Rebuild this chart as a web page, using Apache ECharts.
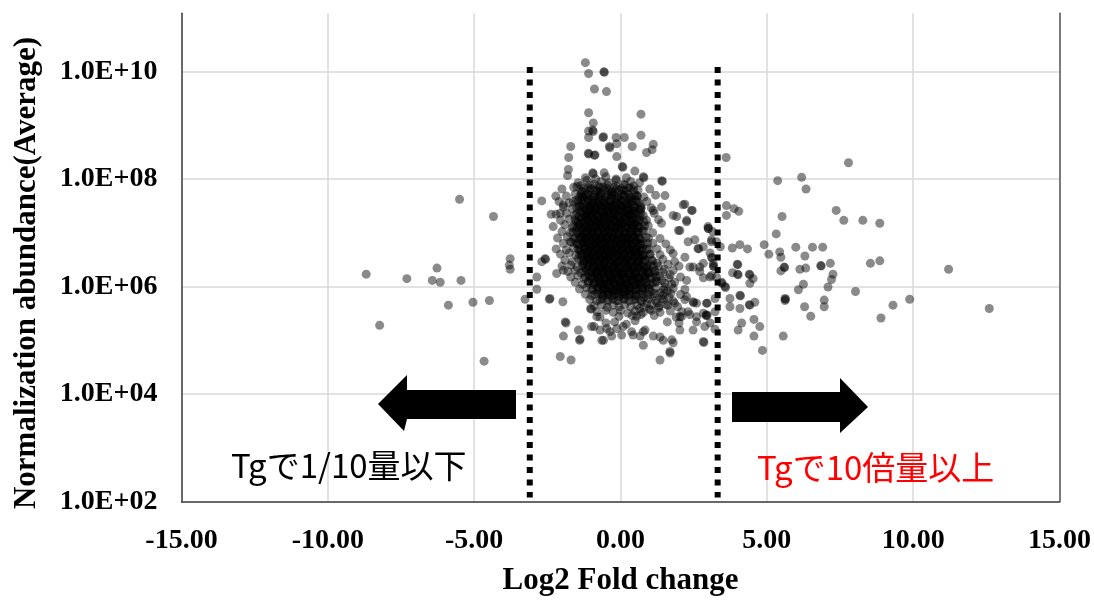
<!DOCTYPE html>
<html>
<head>
<meta charset="utf-8">
<script src="https://cdn.jsdelivr.net/npm/echarts@6.0.0/dist/echarts.min.js"></script>
<style>
  html, body { margin: 0; padding: 0; background: #fff; }
  #main { width: 1094px; height: 603px; }
</style>
</head>
<body>
<div id="main"></div>
<script>
// 軸の設定
const xMin = -15
const xMax = 15
const xStep = 5
const yMin = 1e2
const yMax = 1.2e11
const yTickLabels = ['1.0E+02', '1.0E+04', '1.0E+06', '1.0E+08', '1.0E+10']
// 1/10 と 10倍 の境界 (Log2)
const cutoffs = [-3.1, 3.32]

// [Log2 Fold change, Normalization abundance]
const tailPoints = [
  [-1.20, 1.45e10], [-1.09, 9.1e9], [-0.57, 9.8e9], [-0.55, 9.6e9], [-0.89, 4.7e9], [-0.48, 4.2e9],
  [-1.09, 1.7e9], [0.70, 1.6e9], [-0.93, 1.1e9], [-1.09, 7.8e8], [-0.95, 8.1e8], [-0.93, 7.6e8],
  [-1.09, 5.9e8], [-0.60, 5.9e8], [-0.58, 6.1e8], [-0.15, 5.9e8], [0.13, 5.9e8], [0.70, 6.5e8],
  [0.40, 4.0e8], [1.12, 4.4e8], [1.08, 3.5e8], [0.89, 3.1e8], [-0.38, 4.0e8], [-0.36, 3.8e8],
  [-0.13, 4.5e8], [-1.70, 4.0e8], [-1.77, 2.5e8], [-1.10, 3.0e8], [-1.08, 2.9e8], [-0.89, 2.75e8],
  [-0.87, 2.8e8], [-0.13, 2.6e8], [-1.78, 1.5e8], [-1.81, 1.15e8], [-0.95, 1.3e8], [-0.93, 1.25e8],
  [0.06, 1.7e8], [0.08, 1.65e8], [-0.56, 1.3e8], [0.49, 1.4e8], [0.78, 1.1e8], [0.80, 1.05e8],
  [1.41, 9.3e7], [1.43, 9.0e7]
]

const corePoints = [
  [-1.45, 8.5e7], [-1.15, 9.5e7], [-0.9, 8e7], [-0.65, 9e7], [-0.4, 8.5e7], [-0.15, 9.5e7], [0.1, 8e7], [0.35, 9e7], [0.65, 8.5e7],
  [-2.0, 6.5e7], [-1.6, 7e7], [-1.35, 6e7], [-1.1, 6.8e7], [-0.85, 6.2e7], [-0.6, 7e7], [-0.4, 6e7], [-0.15, 6.6e7], [0.1, 6.1e7], [0.35, 6.8e7], [0.6, 6.2e7], [1.0, 6.5e7], [-0.72, 5.7e7], [-0.28, 5.6e7],
  [-1.85, 4.8e7], [-1.55, 5.2e7], [-1.3, 4.6e7], [-1.08, 5e7], [-0.9, 4.5e7], [-0.68, 4.9e7], [-0.5, 4.4e7], [-0.3, 5.1e7], [-0.1, 4.6e7], [0.12, 5e7], [0.33, 4.5e7], [0.55, 4.9e7], [0.8, 4.6e7], [1.2, 5e7],
  [-2.1, 3.8e7], [-1.75, 3.6e7], [-1.5, 4e7], [-1.28, 3.5e7], [-1.1, 3.9e7], [-0.92, 3.6e7], [-0.75, 4e7], [-0.56, 3.5e7], [-0.38, 3.8e7], [-0.2, 3.6e7], [0.0, 4e7], [0.2, 3.5e7], [0.4, 3.9e7], [0.62, 3.6e7], [0.9, 3.8e7],
  [-1.95, 3e7], [-1.65, 2.8e7], [-1.42, 3.1e7], [-1.2, 2.7e7], [-1.02, 3e7], [-0.84, 2.8e7], [-0.66, 3.1e7], [-0.48, 2.7e7], [-0.3, 3e7], [-0.12, 2.8e7], [0.06, 3.1e7], [0.25, 2.7e7], [0.45, 3e7], [0.7, 2.8e7], [1.05, 2.9e7],
  [-2.2, 2.2e7], [-1.85, 2.3e7], [-1.58, 2.1e7], [-1.35, 2.4e7], [-1.15, 2.2e7], [-0.97, 2.3e7], [-0.79, 2.1e7], [-0.6, 2.4e7], [-0.42, 2.2e7], [-0.24, 2.3e7], [-0.06, 2.1e7], [0.13, 2.4e7], [0.32, 2.2e7], [0.52, 2.3e7], [0.78, 2.1e7], [1.15, 2.3e7],
  [-2.05, 1.7e7], [-1.75, 1.8e7], [-1.5, 1.6e7], [-1.3, 1.9e7], [-1.12, 1.7e7], [-0.93, 1.8e7], [-0.75, 1.6e7], [-0.57, 1.9e7], [-0.38, 1.7e7], [-0.2, 1.8e7], [-0.02, 1.6e7], [0.17, 1.9e7], [0.36, 1.7e7], [0.56, 1.8e7], [0.8, 1.6e7], [1.3, 1.75e7],
  [-2.3, 1.3e7], [-1.9, 1.4e7], [-1.65, 1.25e7], [-1.42, 1.45e7], [-1.22, 1.3e7], [-1.04, 1.4e7], [-0.86, 1.25e7], [-0.68, 1.45e7], [-0.5, 1.3e7], [-0.32, 1.4e7], [-0.14, 1.25e7], [0.05, 1.45e7], [0.24, 1.3e7], [0.44, 1.4e7], [0.66, 1.25e7], [0.95, 1.35e7],
  [-2.0, 1.05e7], [-1.72, 1e7], [-1.5, 1.1e7], [-1.3, 9.5e6], [-1.12, 1.05e7], [-0.94, 1e7], [-0.76, 1.1e7], [-0.58, 9.5e6], [-0.4, 1.05e7], [-0.22, 1e7], [-0.04, 1.1e7], [0.15, 9.5e6], [0.34, 1.05e7], [0.54, 1e7], [0.76, 1.1e7], [1.1, 1e7],
  [-2.15, 8e6], [-1.82, 8.4e6], [-1.58, 7.6e6], [-1.38, 8.2e6], [-1.19, 7.7e6], [-1.01, 8.3e6], [-0.83, 7.6e6], [-0.65, 8.2e6], [-0.47, 7.7e6], [-0.29, 8.3e6], [-0.11, 7.6e6], [0.08, 8.2e6], [0.27, 7.7e6], [0.47, 8.3e6], [0.68, 7.6e6], [0.95, 8e6], [1.35, 7.8e6],
  [-1.95, 6.3e6], [-1.68, 6.6e6], [-1.46, 6e6], [-1.26, 6.5e6], [-1.08, 6.1e6], [-0.9, 6.6e6], [-0.72, 6e6], [-0.54, 6.5e6], [-0.36, 6.1e6], [-0.18, 6.6e6], [0.0, 6e6], [0.19, 6.5e6], [0.38, 6.1e6], [0.58, 6.6e6], [0.8, 6e6], [1.1, 6.4e6], [1.55, 6.2e6],
  [-2.2, 5e6], [-1.85, 4.8e6], [-1.6, 5.2e6], [-1.4, 4.7e6], [-1.21, 5.1e6], [-1.03, 4.8e6], [-0.85, 5.3e6], [-0.67, 4.7e6], [-0.49, 5.1e6], [-0.31, 4.8e6], [-0.13, 5.3e6], [0.06, 4.7e6], [0.25, 5.1e6], [0.45, 4.8e6], [0.66, 5.2e6], [0.9, 4.9e6], [1.25, 5e6], [1.7, 4.8e6],
  [-2.05, 4e6], [-1.75, 4.2e6], [-1.52, 3.8e6], [-1.32, 4.1e6], [-1.14, 3.7e6], [-0.96, 4.2e6], [-0.78, 3.8e6], [-0.6, 4.1e6], [-0.42, 3.7e6], [-0.24, 4.2e6], [-0.06, 3.8e6], [0.13, 4.1e6], [0.32, 3.7e6], [0.52, 4.2e6], [0.74, 3.8e6], [1.0, 4e6], [1.35, 3.9e6], [1.8, 4.1e6],
  [-1.9, 3.1e6], [-1.65, 2.9e6], [-1.44, 3.3e6], [-1.25, 3e6], [-1.07, 3.2e6], [-0.89, 2.9e6], [-0.71, 3.3e6], [-0.53, 3e6], [-0.35, 3.2e6], [-0.17, 2.9e6], [0.01, 3.3e6], [0.2, 3e6], [0.4, 3.2e6], [0.6, 2.9e6], [0.82, 3.1e6], [1.1, 3e6], [1.45, 3.2e6], [1.85, 2.9e6],
  [-2.0, 2.4e6], [-1.7, 2.5e6], [-1.48, 2.3e6], [-1.28, 2.6e6], [-1.1, 2.4e6], [-0.92, 2.5e6], [-0.74, 2.3e6], [-0.56, 2.6e6], [-0.38, 2.4e6], [-0.2, 2.5e6], [-0.02, 2.3e6], [0.17, 2.6e6], [0.36, 2.4e6], [0.56, 2.5e6], [0.78, 2.3e6], [1.02, 2.5e6], [1.3, 2.4e6], [1.62, 2.6e6], [2.0, 2.4e6],
  [-1.8, 1.9e6], [-1.55, 2e6], [-1.35, 1.8e6], [-1.16, 2.05e6], [-0.98, 1.85e6], [-0.8, 2e6], [-0.62, 1.8e6], [-0.44, 2.05e6], [-0.26, 1.85e6], [-0.08, 2e6], [0.11, 1.8e6], [0.3, 2.05e6], [0.5, 1.85e6], [0.7, 2e6], [0.92, 1.8e6], [1.18, 1.95e6], [1.45, 1.85e6], [1.8, 2e6],
  [-1.7, 1.5e6], [-1.45, 1.6e6], [-1.25, 1.4e6], [-1.06, 1.55e6], [-0.88, 1.45e6], [-0.7, 1.6e6], [-0.52, 1.4e6], [-0.34, 1.55e6], [-0.16, 1.45e6], [0.03, 1.6e6], [0.22, 1.4e6], [0.42, 1.55e6], [0.62, 1.45e6], [0.84, 1.6e6], [1.08, 1.4e6], [1.35, 1.55e6], [1.65, 1.45e6], [2.05, 1.5e6],
  [-1.55, 1.2e6], [-1.3, 1.1e6], [-1.1, 1.25e6], [-0.92, 1.15e6], [-0.74, 1.2e6], [-0.56, 1.1e6], [-0.38, 1.25e6], [-0.2, 1.15e6], [-0.02, 1.2e6], [0.17, 1.1e6], [0.36, 1.25e6], [0.56, 1.15e6], [0.77, 1.2e6], [1.0, 1.1e6], [1.25, 1.25e6], [1.52, 1.15e6], [1.85, 1.2e6],
  [-1.4, 9e5], [-1.15, 9.5e5], [-0.95, 8.6e5], [-0.77, 9.8e5], [-0.59, 8.8e5], [-0.41, 9.4e5], [-0.23, 8.6e5], [-0.05, 9.6e5], [0.14, 8.8e5], [0.33, 9.4e5], [0.53, 8.6e5], [0.74, 9.6e5], [0.96, 8.8e5], [1.2, 9.4e5], [1.48, 8.7e5], [1.8, 9.2e5], [2.2, 8.8e5],
  [-1.2, 7.2e5], [-0.98, 6.8e5], [-0.78, 7.6e5], [-0.6, 7e5], [-0.42, 7.5e5], [-0.24, 6.9e5], [-0.06, 7.6e5], [0.13, 7e5], [0.32, 7.4e5], [0.52, 6.8e5], [0.73, 7.6e5], [0.95, 7e5], [1.18, 7.4e5], [1.44, 6.9e5], [1.72, 7.5e5], [2.05, 7.1e5],
  [-1.05, 5.7e5], [-0.82, 5.4e5], [-0.62, 5.9e5], [-0.44, 5.3e5], [-0.26, 5.8e5], [-0.08, 5.5e5], [0.11, 6e5], [0.3, 5.4e5], [0.5, 5.8e5], [0.72, 5.3e5], [0.95, 5.9e5], [1.2, 5.5e5], [1.48, 5.8e5], [1.8, 5.4e5], [2.2, 5.7e5],
  [-0.9, 4.4e5], [-0.65, 4.6e5], [-0.45, 4.1e5], [-0.25, 4.5e5], [-0.05, 4.2e5], [0.15, 4.6e5], [0.35, 4.2e5], [0.57, 4.5e5], [0.8, 4.1e5], [1.05, 4.6e5], [1.32, 4.3e5], [1.62, 4.5e5], [1.95, 4.2e5],
  [-0.8, 3.4e5], [-0.5, 3.6e5], [-0.25, 3.3e5], [0.0, 3.6e5], [0.25, 3.2e5], [0.5, 3.5e5], [0.78, 3.3e5], [1.05, 3.6e5], [1.35, 3.3e5], [1.7, 3.5e5], [2.1, 3.4e5],
  [-0.7, 2.7e5], [-0.05, 2.8e5], [0.55, 2.8e5], [1.15, 2.9e5], [1.9, 2.7e5]
]

// 中心部の重なり
const densePoints = [
  [-1.02, 3.3e7], [-0.76, 3.4e7], [-0.5, 3.2e7], [-0.27, 3.35e7], [-0.01, 3.25e7], [0.24, 3.4e7],
  [-1.12, 2.5e7], [-0.87, 2.6e7], [-0.67, 2.45e7], [-0.43, 2.55e7], [-0.23, 2.5e7], [0.01, 2.6e7], [0.21, 2.45e7], [0.45, 2.5e7],
  [-1.2, 1.95e7], [-0.99, 2.05e7], [-0.75, 1.95e7], [-0.55, 2.05e7], [-0.31, 1.98e7], [-0.11, 2.03e7], [0.13, 1.97e7], [0.33, 2.02e7],
  [-1.26, 1.5e7], [-1.01, 1.55e7], [-0.81, 1.48e7], [-0.57, 1.53e7], [-0.37, 1.47e7], [-0.13, 1.52e7], [0.07, 1.49e7], [0.31, 1.54e7], [0.51, 1.48e7],
  [-1.31, 1.18e7], [-1.07, 1.2e7], [-0.87, 1.16e7], [-0.63, 1.19e7], [-0.43, 1.17e7], [-0.19, 1.21e7], [0.01, 1.17e7], [0.25, 1.19e7], [0.45, 1.16e7],
  [-1.29, 8.8e6], [-1.09, 9.1e6], [-0.85, 8.7e6], [-0.65, 9e6], [-0.41, 8.8e6], [-0.21, 9.1e6], [0.03, 8.7e6], [0.23, 9e6], [0.47, 8.8e6],
  [-1.24, 7e6], [-1.04, 7.2e6], [-0.8, 6.9e6], [-0.6, 7.1e6], [-0.36, 7e6], [-0.16, 7.2e6], [0.08, 6.9e6], [0.28, 7.1e6], [0.52, 7e6],
  [-1.21, 5.6e6], [-0.97, 5.7e6], [-0.77, 5.5e6], [-0.53, 5.7e6], [-0.33, 5.6e6], [-0.09, 5.5e6], [0.11, 5.7e6], [0.35, 5.6e6], [0.55, 5.5e6],
  [-1.14, 4.4e6], [-0.94, 4.5e6], [-0.7, 4.3e6], [-0.5, 4.5e6], [-0.26, 4.4e6], [-0.06, 4.3e6], [0.18, 4.5e6], [0.38, 4.4e6], [0.62, 4.3e6],
  [-1.11, 3.5e6], [-0.87, 3.6e6], [-0.67, 3.4e6], [-0.43, 3.55e6], [-0.23, 3.45e6], [0.01, 3.6e6], [0.21, 3.4e6], [0.45, 3.55e6], [0.65, 3.5e6],
  [-1.01, 2.75e6], [-0.77, 2.8e6], [-0.57, 2.7e6], [-0.33, 2.8e6], [-0.13, 2.7e6], [0.11, 2.78e6], [0.31, 2.72e6], [0.55, 2.8e6],
  [-0.91, 2.15e6], [-0.67, 2.2e6], [-0.47, 2.1e6], [-0.23, 2.2e6], [-0.03, 2.12e6], [0.21, 2.18e6], [0.41, 2.1e6], [0.65, 2.2e6],
  [-0.81, 1.7e6], [-0.57, 1.72e6], [-0.37, 1.67e6], [-0.13, 1.73e6], [0.07, 1.68e6], [0.31, 1.72e6], [0.51, 1.67e6],
  [-0.71, 1.32e6], [-0.47, 1.35e6], [-0.27, 1.3e6], [-0.03, 1.34e6], [0.17, 1.3e6], [0.41, 1.35e6], [0.61, 1.31e6],
  [-0.61, 1.03e6], [-0.37, 1.05e6], [-0.17, 1.01e6], [0.07, 1.04e6], [0.27, 1.02e6], [0.51, 1.05e6],
  [-0.46, 8e5], [-0.21, 8.2e5], [0.04, 7.9e5], [0.29, 8.1e5]
]

const densePoints2 = [
  [-1.2, 1.05e8], [-0.85, 1.0e8], [-0.5, 1.1e8], [-0.15, 1.0e8], [0.2, 1.05e8],
  [-1.35, 7.5e7], [-1.05, 7.8e7], [-0.75, 7.4e7], [-0.45, 7.7e7], [-0.15, 7.5e7], [0.15, 7.8e7], [0.45, 7.4e7],
  [-1.3, 5.8e7], [-1.05, 6.2e7], [-0.8, 5.9e7], [-0.55, 6.3e7], [-0.3, 5.8e7], [-0.05, 6.1e7], [0.2, 5.9e7], [0.45, 6.3e7],
  [-1.4, 4.6e7], [-1.18, 4.8e7], [-0.96, 4.5e7], [-0.74, 4.7e7], [-0.52, 4.6e7], [-0.3, 4.8e7], [-0.08, 4.5e7], [0.14, 4.7e7], [0.36, 4.6e7], [0.58, 4.8e7],
  [-1.45, 3.7e7], [-1.2, 3.8e7], [-0.98, 3.6e7], [-0.76, 3.75e7], [-0.54, 3.7e7], [-0.32, 3.8e7], [-0.1, 3.65e7], [0.12, 3.75e7], [0.34, 3.7e7], [0.56, 3.8e7],
  [-1.5, 2.9e7], [-1.27, 2.95e7], [-1.05, 2.85e7], [-0.83, 2.95e7], [-0.61, 2.9e7], [-0.39, 2.95e7], [-0.17, 2.85e7], [0.05, 2.9e7], [0.27, 2.95e7], [0.49, 2.85e7], [0.71, 2.9e7],
  [-1.5, 2.25e7], [-1.28, 2.3e7], [-1.06, 2.2e7], [-0.84, 2.28e7], [-0.62, 2.22e7], [-0.4, 2.3e7], [-0.18, 2.22e7], [0.04, 2.28e7], [0.26, 2.2e7], [0.48, 2.3e7], [0.7, 2.25e7],
  [-1.55, 1.75e7], [-1.33, 1.78e7], [-1.11, 1.72e7], [-0.89, 1.76e7], [-0.67, 1.73e7], [-0.45, 1.78e7], [-0.23, 1.72e7], [-0.01, 1.76e7], [0.21, 1.73e7], [0.43, 1.78e7], [0.65, 1.74e7],
  [-1.6, 1.35e7], [-1.38, 1.37e7], [-1.16, 1.33e7], [-0.94, 1.36e7], [-0.72, 1.34e7], [-0.5, 1.37e7], [-0.28, 1.33e7], [-0.06, 1.36e7], [0.16, 1.34e7], [0.38, 1.37e7], [0.6, 1.33e7], [0.82, 1.35e7],
  [-1.62, 1.03e7], [-1.4, 1.06e7], [-1.18, 1.04e7], [-0.96, 1.07e7], [-0.74, 1.03e7], [-0.52, 1.06e7], [-0.3, 1.04e7], [-0.08, 1.07e7], [0.14, 1.03e7], [0.36, 1.06e7], [0.58, 1.04e7], [0.8, 1.06e7],
  [-1.55, 8.1e6], [-1.33, 8.3e6], [-1.11, 8e6], [-0.89, 8.2e6], [-0.67, 8.1e6], [-0.45, 8.3e6], [-0.23, 8e6], [-0.01, 8.2e6], [0.21, 8.1e6], [0.43, 8.3e6], [0.65, 8e6], [0.87, 8.2e6],
  [-1.5, 6.3e6], [-1.28, 6.5e6], [-1.06, 6.2e6], [-0.84, 6.4e6], [-0.62, 6.3e6], [-0.4, 6.5e6], [-0.18, 6.2e6], [0.04, 6.4e6], [0.26, 6.3e6], [0.48, 6.5e6], [0.7, 6.2e6], [0.92, 6.4e6],
  [-1.45, 5e6], [-1.23, 4.9e6], [-1.01, 5.1e6], [-0.79, 4.95e6], [-0.57, 5.05e6], [-0.35, 4.9e6], [-0.13, 5.1e6], [0.09, 4.95e6], [0.31, 5.05e6], [0.53, 4.9e6], [0.75, 5.1e6], [0.97, 5e6],
  [-1.4, 3.9e6], [-1.18, 4e6], [-0.96, 3.85e6], [-0.74, 3.95e6], [-0.52, 3.9e6], [-0.3, 4e6], [-0.08, 3.85e6], [0.14, 3.95e6], [0.36, 3.9e6], [0.58, 4e6], [0.8, 3.85e6], [1.02, 3.95e6],
  [-1.35, 3.05e6], [-1.13, 3.15e6], [-0.91, 3.1e6], [-0.69, 3.05e6], [-0.47, 3.15e6], [-0.25, 3.1e6], [-0.03, 3.05e6], [0.19, 3.15e6], [0.41, 3.1e6], [0.63, 3.05e6], [0.85, 3.15e6], [1.07, 3.1e6],
  [-1.3, 2.4e6], [-1.08, 2.45e6], [-0.86, 2.35e6], [-0.64, 2.42e6], [-0.42, 2.38e6], [-0.2, 2.45e6], [0.02, 2.35e6], [0.24, 2.42e6], [0.46, 2.38e6], [0.68, 2.45e6], [0.9, 2.35e6], [1.12, 2.4e6],
  [-1.25, 1.9e6], [-1.03, 1.93e6], [-0.81, 1.87e6], [-0.59, 1.92e6], [-0.37, 1.88e6], [-0.15, 1.93e6], [0.07, 1.87e6], [0.29, 1.92e6], [0.51, 1.88e6], [0.73, 1.93e6], [0.95, 1.87e6], [1.17, 1.9e6],
  [-1.2, 1.5e6], [-0.98, 1.52e6], [-0.76, 1.48e6], [-0.54, 1.51e6], [-0.32, 1.49e6], [-0.1, 1.52e6], [0.12, 1.48e6], [0.34, 1.51e6], [0.56, 1.49e6], [0.78, 1.52e6], [1.0, 1.48e6], [1.22, 1.5e6],
  [-1.1, 1.17e6], [-0.88, 1.19e6], [-0.66, 1.16e6], [-0.44, 1.19e6], [-0.22, 1.17e6], [0.0, 1.19e6], [0.22, 1.16e6], [0.44, 1.19e6], [0.66, 1.17e6], [0.88, 1.19e6], [1.1, 1.16e6],
  [-1.0, 9.2e5], [-0.78, 9.3e5], [-0.56, 9.1e5], [-0.34, 9.3e5], [-0.12, 9.2e5], [0.1, 9.1e5], [0.32, 9.3e5], [0.54, 9.2e5], [0.76, 9.1e5], [0.98, 9.3e5],
  [-0.9, 7.2e5], [-0.66, 7.3e5], [-0.42, 7.1e5], [-0.18, 7.3e5], [0.06, 7.2e5], [0.3, 7.1e5], [0.54, 7.3e5], [0.78, 7.2e5],
  [-0.7, 5.6e5], [-0.42, 5.7e5], [-0.14, 5.5e5], [0.14, 5.7e5], [0.42, 5.6e5], [0.7, 5.5e5]
]

const densePoints3 = [
  [-1.25, 6.8e7], [-1.0, 6.6e7], [-0.72, 6.9e7], [-0.47, 6.7e7], [-0.22, 6.9e7], [0.03, 6.6e7], [0.28, 6.8e7],
  [-1.35, 5.2e7], [-1.12, 5.3e7], [-0.89, 5.1e7], [-0.66, 5.3e7], [-0.43, 5.2e7], [-0.2, 5.1e7], [0.03, 5.3e7], [0.26, 5.2e7], [0.49, 5.1e7],
  [-1.32, 4.1e7], [-1.09, 4.2e7], [-0.86, 4.0e7], [-0.63, 4.15e7], [-0.4, 4.05e7], [-0.17, 4.2e7], [0.06, 4.0e7], [0.29, 4.15e7], [0.52, 4.1e7],
  [-1.38, 3.2e7], [-1.15, 3.25e7], [-0.92, 3.15e7], [-0.69, 3.25e7], [-0.46, 3.18e7], [-0.23, 3.24e7], [0.0, 3.16e7], [0.23, 3.22e7], [0.46, 3.2e7], [0.69, 3.17e7],
  [-1.4, 2.6e7], [-1.17, 2.62e7], [-0.94, 2.56e7], [-0.71, 2.63e7], [-0.48, 2.58e7], [-0.25, 2.62e7], [-0.02, 2.57e7], [0.21, 2.63e7], [0.44, 2.58e7], [0.67, 2.6e7],
  [-1.42, 2.0e7], [-1.19, 2.02e7], [-0.96, 1.98e7], [-0.73, 2.01e7], [-0.5, 1.99e7], [-0.27, 2.02e7], [-0.04, 1.98e7], [0.19, 2.01e7], [0.42, 1.99e7], [0.65, 2.02e7],
  [-1.45, 1.58e7], [-1.22, 1.6e7], [-0.99, 1.56e7], [-0.76, 1.59e7], [-0.53, 1.57e7], [-0.3, 1.6e7], [-0.07, 1.56e7], [0.16, 1.59e7], [0.39, 1.57e7], [0.62, 1.6e7],
  [-1.47, 1.25e7], [-1.24, 1.26e7], [-1.01, 1.23e7], [-0.78, 1.26e7], [-0.55, 1.24e7], [-0.32, 1.27e7], [-0.09, 1.23e7], [0.14, 1.26e7], [0.37, 1.24e7], [0.6, 1.26e7],
  [-1.45, 9.8e6], [-1.22, 9.9e6], [-0.99, 9.6e6], [-0.76, 9.9e6], [-0.53, 9.7e6], [-0.3, 9.9e6], [-0.07, 9.6e6], [0.16, 9.9e6], [0.39, 9.7e6], [0.62, 9.9e6],
  [-1.42, 7.6e6], [-1.19, 7.7e6], [-0.96, 7.5e6], [-0.73, 7.7e6], [-0.5, 7.55e6], [-0.27, 7.7e6], [-0.04, 7.5e6], [0.19, 7.7e6], [0.42, 7.55e6], [0.65, 7.7e6],
  [-1.4, 5.9e6], [-1.17, 6e6], [-0.94, 5.85e6], [-0.71, 5.95e6], [-0.48, 5.9e6], [-0.25, 6e6], [-0.02, 5.85e6], [0.21, 5.95e6], [0.44, 5.9e6], [0.67, 6e6],
  [-1.35, 4.6e6], [-1.12, 4.65e6], [-0.89, 4.55e6], [-0.66, 4.62e6], [-0.43, 4.58e6], [-0.2, 4.65e6], [0.03, 4.55e6], [0.26, 4.62e6], [0.49, 4.58e6], [0.72, 4.65e6],
  [-1.3, 3.6e6], [-1.07, 3.65e6], [-0.84, 3.55e6], [-0.61, 3.62e6], [-0.38, 3.58e6], [-0.15, 3.65e6], [0.08, 3.55e6], [0.31, 3.62e6], [0.54, 3.58e6], [0.77, 3.65e6],
  [-1.25, 2.85e6], [-1.02, 2.88e6], [-0.79, 2.82e6], [-0.56, 2.87e6], [-0.33, 2.83e6], [-0.1, 2.88e6], [0.13, 2.82e6], [0.36, 2.87e6], [0.59, 2.83e6], [0.82, 2.88e6],
  [-1.2, 2.2e6], [-0.97, 2.23e6], [-0.74, 2.18e6], [-0.51, 2.22e6], [-0.28, 2.19e6], [-0.05, 2.23e6], [0.18, 2.18e6], [0.41, 2.22e6], [0.64, 2.19e6], [0.87, 2.23e6],
  [-1.1, 1.75e6], [-0.87, 1.77e6], [-0.64, 1.73e6], [-0.41, 1.76e6], [-0.18, 1.74e6], [0.05, 1.77e6], [0.28, 1.73e6], [0.51, 1.76e6], [0.74, 1.74e6], [0.97, 1.77e6],
  [-1.0, 1.38e6], [-0.77, 1.4e6], [-0.54, 1.36e6], [-0.31, 1.39e6], [-0.08, 1.37e6], [0.15, 1.4e6], [0.38, 1.36e6], [0.61, 1.39e6], [0.84, 1.37e6],
  [-0.9, 1.08e6], [-0.67, 1.1e6], [-0.44, 1.06e6], [-0.21, 1.09e6], [0.02, 1.07e6], [0.25, 1.1e6], [0.48, 1.06e6], [0.71, 1.09e6],
  [-0.75, 8.5e5], [-0.5, 8.6e5], [-0.25, 8.4e5], [0.0, 8.6e5], [0.25, 8.4e5], [0.5, 8.6e5], [0.75, 8.5e5],
  [-0.6, 6.6e5], [-0.32, 6.7e5], [-0.04, 6.5e5], [0.24, 6.7e5], [0.52, 6.6e5]
]

const lobePoints = [
  [0.95, 2.2e6], [1.25, 2.7e6], [1.5, 2.1e6], [0.85, 1.5e6], [1.15, 1.7e6], [1.4, 1.3e6], [1.7, 1.65e6],
  [0.9, 1.05e6], [1.2, 1.2e6], [1.5, 9.8e5], [1.75, 1.1e6], [1.05, 8e5], [1.35, 7.6e5], [1.6, 8.2e5],
  [0.8, 6.2e5], [1.1, 6.5e5], [1.4, 6e5], [1.65, 6.4e5], [0.9, 4.8e5], [1.25, 5e5], [1.55, 4.6e5], [1.85, 4.9e5],
  [0.65, 3.9e5], [1.0, 3.8e5], [1.3, 4e5], [0.4, 2.9e5], [0.7, 3e5], [1.6, 2.2e5], [2.0, 2.1e5],
  [-0.2, 2.2e5], [0.2, 2e5], [-0.5, 2.1e5], [0.5, 2.3e5]
]

const fringePoints = [
  [-1.95, 3.3e7], [-1.61, 3.8e7], [-2.69, 3.9e7], [-2.21, 4.8e7], [-2.37, 2.2e7], [-2.06, 2.3e7], [-1.49, 7.2e7], [-1.27, 4.7e7], [-1.72, 6.8e6],
  [1.52, 4.9e7], [2.20, 3.4e7], [2.45, 2.6e7], [2.26, 1.7e7], [1.92, 2e7], [1.98, 1.1e7], [2.54, 7.4e6], [2.83, 5.5e6], [3.0, 1.2e7], [3.11, 7.4e6], [3.28, 6.8e6],
  [2.20, 3.5e6], [2.37, 2.3e6], [2.83, 2.7e6], [3.11, 1.6e6], [3.28, 1.5e6],
  [2.26, 6.5e5], [2.60, 4.9e5], [2.83, 3.2e5], [2.94, 4.9e5], [3.23, 3.4e5], [3.06, 2.1e5],
  [2.09, 2.75e5], [2.37, 3e5], [2.60, 2.2e5], [2.88, 1.8e5], [2.83, 9.5e4],
  [1.12, 1.2e5], [1.46, 1e5], [1.80, 9e4], [1.69, 6.2e4],
  [0.84, 1.55e5], [0.67, 1.2e5], [0.38, 1.45e5], [0.04, 1.25e5],
  [-0.58, 1e5], [-0.36, 1.45e5], [-0.70, 1.55e5], [-0.99, 1.8e5],
  [-1.44, 1.55e5], [-1.40, 1.0e5], [-1.38, 1.05e5], [-1.95, 1.2e5], [-1.89, 2.2e5], [-2.06, 5e4],
  [-2.41, 6e5], [-2.43, 5.8e5], [-2.69, 2.9e6], [-2.58, 3.3e6], [-2.56, 3.2e6], [-2.86, 1.5e6], [-2.18, 1.75e6], [-1.95, 2e6], [-2.86, 8.9e5],
  [-1.97, 5.2e5], [-1.86, 2.1e5], [-1.69, 4.3e4],
  [-0.90, 1.8e5], [-1.02, 3.9e5], [-1.0, 3.8e5], [-0.81, 2.75e5], [-0.47, 1.65e5], [-0.13, 1.65e5], [0.09, 1.8e5],
  [-0.64, 1e5], [-0.30, 1.2e5], [0.43, 1.25e5], [0.78, 1.45e5], [1.35, 1.15e5], [1.75, 1.02e5],
  [0.78, 8.1e4], [1.69, 5.8e4], [1.35, 4.3e4],
  [2.03, 1.55e5], [2.48, 1.55e5], [2.85, 9.1e4],
  [2.48, 5.2e5], [2.50, 5.0e5], [2.94, 3e5], [2.96, 2.9e5], [2.60, 2.75e5], [2.03, 2.75e5], [2.31, 3.4e5],
  [2.26, 1.3e6], [2.48, 2.3e6], [2.71, 1.9e6], [3.06, 1.5e6],
  [1.80, 2.1e7], [2.26, 1.6e7], [2.14, 3.3e7], [2.43, 2.6e7],
  [2.03, 1.1e7], [2.31, 6.8e6], [2.65, 5.1e6], [2.67, 5.0e6],
  [2.99, 1.3e7], [3.11, 6.8e6], [3.06, 4.2e6], [3.17, 2.7e6],
  [1.12, 2.6e7], [1.40, 3e7], [1.40, 1.5e7], [0.89, 1.7e7]
]

const leftPoints = [
  [-5.50, 4.2e7], [-4.34, 2e7], [-3.77, 3.3e6], [-3.80, 2.5e6], [-3.77, 2.1e6], [-8.69, 1.7e6],
  [-7.30, 1.4e6], [-6.27, 2.2e6], [-6.43, 1.3e6], [-6.16, 1.2e6], [-5.45, 1.3e6], [-5.88, 4.5e5],
  [-5.04, 5.1e5], [-4.48, 5.5e5], [-3.26, 5.8e5], [-8.23, 1.9e5], [-4.66, 4.1e4]
]

const rightPoints = [
  [3.61, 2.5e8], [7.79, 2e8], [5.37, 9.3e7], [6.19, 1.07e8], [6.34, 6.5e7],
  [3.62, 3.2e7], [3.88, 2.8e7], [4.04, 2.5e7], [3.62, 2.1e7], [5.52, 2e7], [7.37, 2.6e7], [7.63, 1.7e7], [8.28, 1.7e7], [8.86, 1.5e7],
  [3.0, 1.2e7], [3.15, 1.05e7], [5.32, 9.5e6],
  [3.82, 5.2e6], [4.08, 6e6], [4.34, 5e6], [3.41, 5.5e6], [4.91, 6e6],
  [5.07, 4e6], [5.44, 4.4e6], [5.48, 3.5e6], [5.99, 5.4e6], [6.56, 5.4e6], [6.91, 5.4e6], [6.30, 3.7e6], [7.17, 2.7e6], [8.54, 2.7e6], [8.86, 3e6], [11.21, 2.1e6],
  [3.99, 2.6e6], [4.01, 2.55e6], [5.59, 2.3e6], [5.61, 2.25e6], [5.48, 1.95e6], [6.13, 2.1e6], [6.33, 2.2e6], [6.84, 2.45e6], [6.86, 2.4e6],
  [7.26, 1.7e6], [7.21, 1.35e6], [7.09, 9.8e5], [6.25, 1.1e6], [6.08, 8.7e5], [8.03, 8.1e5],
  [3.83, 1.8e6], [4.0, 1.7e6], [4.02, 1.65e6], [4.4, 1.7e6], [4.42, 1.65e6], [4.53, 1.4e6], [4.42, 1.15e6],
  [3.45, 1.2e6], [3.47, 1.15e6], [3.57, 1e6], [3.59, 9.6e5], [2.83, 1.45e6], [2.71, 2.3e6], [3.11, 3.5e6], [3.13, 3.4e6], [3.17, 2.4e6], [3.19, 2.35e6],
  [5.62, 6e5], [5.64, 5.8e5], [5.62, 5.5e5], [6.96, 5.6e5], [6.96, 4.2e5], [6.29, 4.2e5], [6.50, 2.8e5], [9.31, 4.5e5], [9.88, 5.8e5], [8.90, 2.6e5], [12.60, 3.9e5],
  [3.74, 6e5], [3.74, 4.2e5], [4.08, 6.9e5], [4.10, 6.7e5], [4.08, 3.9e5], [4.40, 4.6e5], [4.42, 4.5e5], [4.59, 5.1e5],
  [2.96, 4.9e5], [2.92, 2.9e5], [3.23, 6e5],
  [4.14, 2.1e5], [4.02, 1.55e5], [4.56, 2.45e5], [4.76, 1.8e5], [4.56, 1.2e5],
  [5.56, 1.2e5], [4.85, 6.5e4], [3.23, 1.6e5]
]

const allPoints = [].concat(leftPoints, rightPoints, fringePoints, lobePoints, corePoints, densePoints, densePoints2, densePoints3, tailPoints)

const serifFont = '"Liberation Serif", "Times New Roman", serif'
const jpFont = '"Noto Sans CJK JP", sans-serif'

var myChart = echarts.init(document.getElementById('main'))
let option = {
  animation: false,
  backgroundColor: '#fff',
  grid: {
    left: 181.5,
    right: 34.5,
    top: 13.3,
    bottom: 101.3,
    outerBoundsMode: 'none'
  },
  xAxis: {
    type: 'value',
    min: xMin,
    max: xMax,
    interval: xStep,
    name: 'Log2 Fold change',
    nameLocation: 'middle',
    nameGap: 64,
    nameTextStyle: { color: '#000', fontFamily: serifFont, fontWeight: 'bold', fontSize: 31 },
    axisLine: { show: true, onZero: false, lineStyle: { color: '#404040', width: 1.5 } },
    axisTick: { show: false },
    axisLabel: {
      color: '#000',
      fontFamily: serifFont,
      fontWeight: 'bold',
      fontSize: 28,
      margin: 25,
      formatter: function (v) { return v.toFixed(2) }
    },
    splitLine: { show: true, lineStyle: { color: '#d9d9d9', width: 1.5 } }
  },
  yAxis: [
    {
      type: 'log',
      logBase: 100,
      min: yMin,
      max: yMax,
      axisLine: { show: true, onZero: false, lineStyle: { color: '#404040', width: 1.5 } },
      axisTick: { show: false },
      axisLabel: {
        color: '#000',
        fontFamily: serifFont,
        fontWeight: 'bold',
        fontSize: 28,
        margin: 24,
        showMaxLabel: false,
        formatter: function (v) {
          const i = Math.round(Math.log10(v) / 2) - 1
          return yTickLabels[i] || ''
        }
      },
      splitLine: { show: true, showMaxLine: false, lineStyle: { color: '#d9d9d9', width: 1.5 } }
    },
    {
      // 右の枠線
      type: 'log',
      logBase: 100,
      min: yMin,
      max: yMax,
      position: 'right',
      axisLine: { show: true, onZero: false, lineStyle: { color: '#595959', width: 1.5 } },
      axisTick: { show: false },
      axisLabel: { show: false },
      splitLine: { show: false }
    }
  ],
  series: [
    {
      type: 'scatter',
      data: allPoints,
      symbolSize: 9,
      // scatter の既定 opacity 0.8 を打ち消す
      itemStyle: { color: 'rgba(0,0,0,0.46)', opacity: 1 },
      silent: true
    },
    {
      type: 'line',
      data: [[cutoffs[0], 1.2e10], [cutoffs[0], 120]],
      symbol: 'none',
      silent: true,
      z: 5,
      lineStyle: { color: '#000', width: 6, type: [6, 6.5] }
    },
    {
      type: 'line',
      data: [[cutoffs[1], 1.2e10], [cutoffs[1], 120]],
      symbol: 'none',
      silent: true,
      z: 5,
      lineStyle: { color: '#000', width: 6, type: [6, 6.5] }
    }
  ],
  graphic: [
    {
      type: 'text',
      x: 27,
      y: 273,
      rotation: Math.PI / 2,
      style: {
        text: 'Normalization abundance(Average)',
        fill: '#000',
        font: 'bold 31px ' + serifFont,
        align: 'center',
        verticalAlign: 'middle'
      }
    },
    // 矢印
    {
      type: 'polygon',
      shape: { points: [[378, 404], [407, 375], [407, 390], [516, 390], [516, 419], [407, 419], [404, 431]] },
      style: { fill: '#000' },
      z: 10
    },
    {
      type: 'polygon',
      shape: { points: [[732, 392], [840, 392], [840, 378], [868, 407], [840, 433], [840, 422], [732, 422]] },
      style: { fill: '#000' },
      z: 10
    },
    {
      type: 'text',
      x: 231,
      y: 465,
      style: { text: 'Tgで1/10量以下', fill: '#000', font: '33px ' + jpFont, verticalAlign: 'middle' },
      z: 10
    },
    {
      type: 'text',
      x: 757,
      y: 467,
      style: { text: 'Tgで10倍量以上', fill: '#ff0000', font: '33px ' + jpFont, verticalAlign: 'middle' },
      z: 10
    }
  ]
}
myChart.clear()
myChart.setOption(option)
</script>
</body>
</html>
